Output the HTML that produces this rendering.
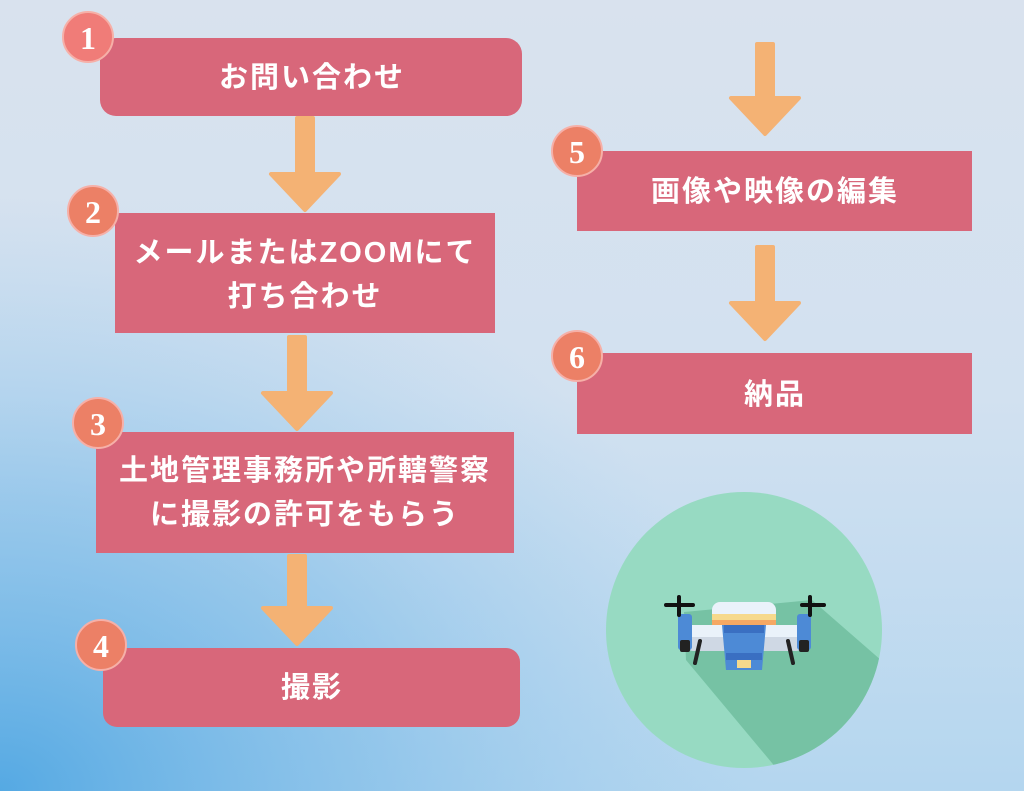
<!DOCTYPE html>
<html><head><meta charset="utf-8"><style>
body{margin:0;width:1024px;height:791px;overflow:hidden;font-family:"Liberation Sans","Noto Sans CJK JP",sans-serif;}
</style></head><body>
<svg width="1024" height="791" viewBox="0 0 1024 791" xmlns="http://www.w3.org/2000/svg">
<defs>
<linearGradient id="bg" x1="0" y1="0" x2="0" y2="1">
<stop offset="0" stop-color="#d9e2ee"/>
<stop offset="0.5" stop-color="#d2e1f0"/>
<stop offset="1" stop-color="#b4d6ef"/>
</linearGradient>
<radialGradient id="bl" cx="0" cy="1" r="0.75" gradientTransform="translate(0,0) scale(1,1)">
<stop offset="0" stop-color="#55a9e3" stop-opacity="1"/>
<stop offset="0.5" stop-color="#7bbbe8" stop-opacity="0.6"/>
<stop offset="1" stop-color="#9ccbee" stop-opacity="0"/>
</radialGradient>
<clipPath id="cc"><circle cx="744" cy="630" r="138"/></clipPath>
</defs>
<rect width="1024" height="791" fill="url(#bg)"/>
<rect width="1024" height="791" fill="url(#bl)"/>

<g fill="#f4b274" stroke="#f4b274" stroke-width="4" stroke-linejoin="round">
<path d="M297 118h16v56h26l-34 36-34-36h26z"/>
<path d="M289 337h16v56h26l-34 36-34-36h26z"/>
<path d="M289 556h16v52h26l-34 36-34-36h26z"/>
<path d="M757 44h16v54h26l-34 36-34-36h26z"/>
<path d="M757 247h16v56h26l-34 36-34-36h26z"/>
</g>

<g fill="#d8677a">
<rect x="100" y="38" width="422" height="78" rx="16"/>
<rect x="115" y="213" width="380" height="120"/>
<rect x="96" y="432" width="418" height="121"/>
<rect x="103" y="648" width="417" height="79" rx="14"/>
<rect x="577" y="151" width="395" height="80"/>
<rect x="577" y="353" width="395" height="81"/>
</g>

<g fill="#fff" font-size="29" font-weight="bold" text-anchor="middle" letter-spacing="2" font-family="Liberation Sans, Noto Sans CJK JP, sans-serif">
<text x="312" y="87">お問い合わせ</text>
<text x="305" y="262">メールまたはZOOMにて</text>
<text x="305" y="306">打ち合わせ</text>
<text x="305" y="480">土地管理事務所や所轄警察</text>
<text x="305" y="524">に撮影の許可をもらう</text>
<text x="312" y="697">撮影</text>
<text x="775" y="201">画像や映像の編集</text>
<text x="775" y="404">納品</text>
</g>

<g font-family="Liberation Serif, serif" font-weight="bold" font-size="32" text-anchor="middle" fill="#fff">
<g><circle cx="88" cy="37" r="25" fill="#f07c78" stroke="#f6b0a8" stroke-width="2"/><text x="88" y="49">1</text></g>
<g><circle cx="93" cy="211" r="25" fill="#ec8066" stroke="#f6b0a8" stroke-width="2"/><text x="93" y="223">2</text></g>
<g><circle cx="98" cy="423" r="25" fill="#ec8066" stroke="#f6b0a8" stroke-width="2"/><text x="98" y="435">3</text></g>
<g><circle cx="101" cy="645" r="25" fill="#ec8066" stroke="#f6b0a8" stroke-width="2"/><text x="101" y="657">4</text></g>
<g><circle cx="577" cy="151" r="25" fill="#ec8066" stroke="#f6b0a8" stroke-width="2"/><text x="577" y="163">5</text></g>
<g><circle cx="577" cy="356" r="25" fill="#ec8066" stroke="#f6b0a8" stroke-width="2"/><text x="577" y="368">6</text></g>
</g>

<circle cx="744" cy="630" r="138" fill="#97dac2"/>
<g clip-path="url(#cc)">
<path d="M684 612 L812 600 L890 668 L890 800 L782 775 L686 660z" fill="#76c2a4"/>
</g>
<g>
<rect x="712" y="602" width="64" height="30" rx="8" fill="#eaf2fa"/>
<rect x="712" y="614" width="64" height="18" fill="#f6d98c"/>
<rect x="712" y="620" width="64" height="14" fill="#f5a864"/>
<rect x="687" y="625" width="115" height="26" rx="6" fill="#cfd8e4"/>
<rect x="687" y="625" width="115" height="12" fill="#eaf2fa"/>
<path d="M722 625h44l-4 45h-36z" fill="#4d8ad6"/>
<rect x="724" y="625" width="40" height="8" fill="#3a6fc2"/>
<rect x="726" y="653" width="36" height="7" fill="#3a6fc2"/>
<rect x="737" y="660" width="14" height="8" fill="#f6d98c"/>
<rect x="678" y="614" width="14" height="36" rx="3" fill="#4d8ad6"/>
<rect x="797" y="614" width="14" height="36" rx="3" fill="#4d8ad6"/>
<rect x="680" y="640" width="10" height="12" rx="2" fill="#222"/>
<rect x="799" y="640" width="10" height="12" rx="2" fill="#222"/>
<path d="M700 641l-5 22M788 641l5 22" stroke="#222" stroke-width="4" stroke-linecap="round"/>
<path d="M666 605h27M802 605h22M679 597v18M810 597v18" stroke="#111" stroke-width="4" stroke-linecap="round"/>
</g>
</svg>
</body></html>
